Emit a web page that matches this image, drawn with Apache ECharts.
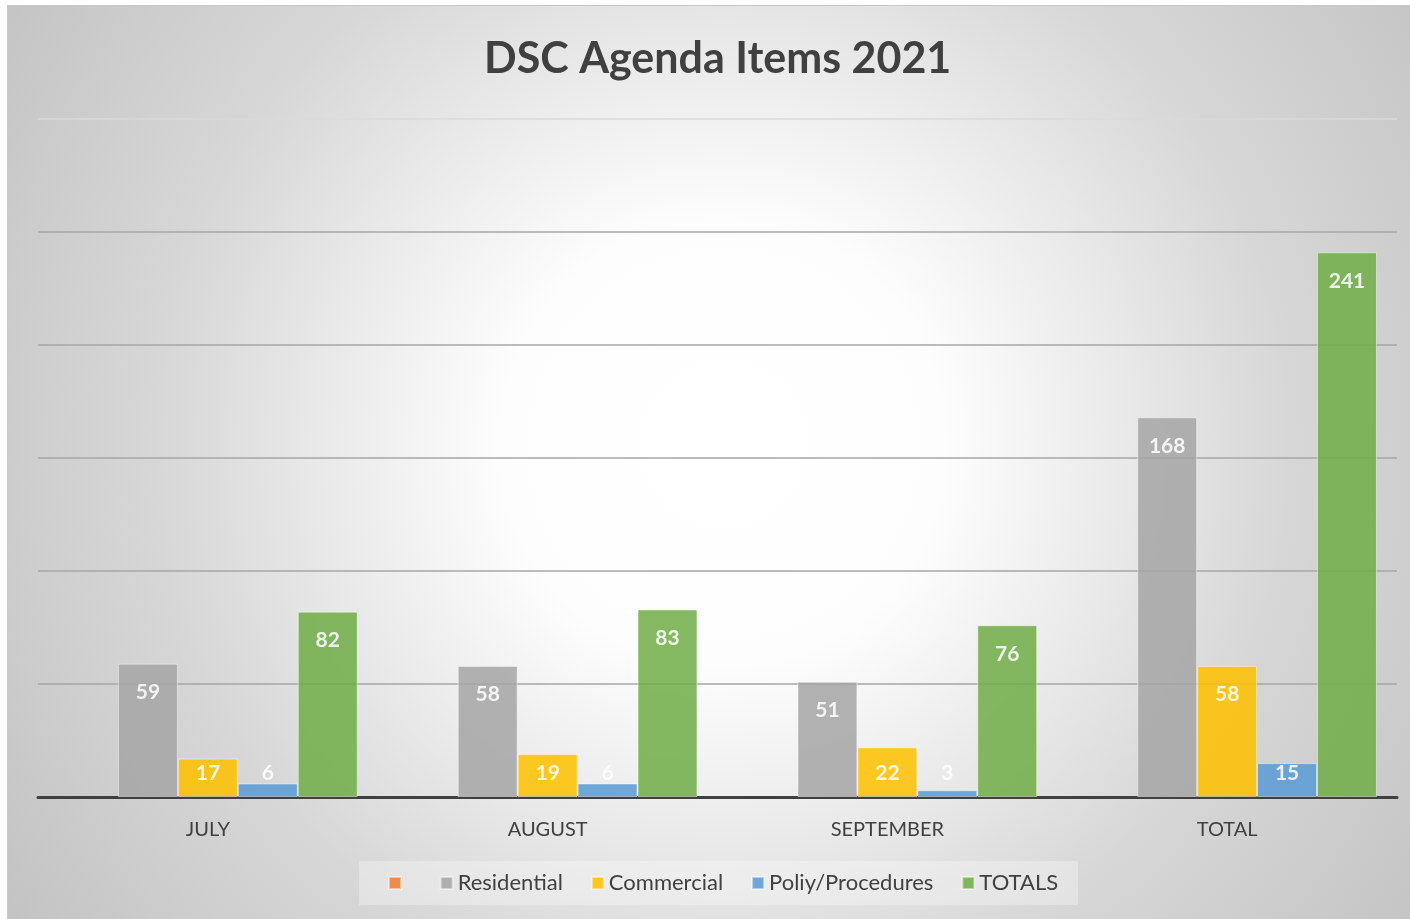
<!DOCTYPE html>
<html>
<head>
<meta charset="utf-8">
<script src="https://cdn.jsdelivr.net/npm/echarts@6/dist/echarts.min.js"></script>
<style>
  html, body { margin: 0; padding: 0; background: #ffffff; }
  #frame {
    position: absolute; left: 7px; top: 5px; width: 1403px; height: 914px;
    border-top: 1px solid #c8c8c8; border-left: 1px solid #c8c8c8;
    box-sizing: border-box;
    background: radial-gradient(circle at 51% 48%, #ffffff 0%, #fdfdfd 26%, #eaeaea 46%, #d7d7d7 66%, #c3c3c3 100%);
  }
  #chart { position: absolute; left: 0; top: 0; width: 1402px; height: 913px; }
</style>
</head>
<body>
<div id="frame"><div id="chart"></div></div>
<script>
// data
const months = ['JULY', 'AUGUST', 'SEPTEMBER', 'TOTAL']
const seriesNames = [' ', 'Residential', 'Commercial', 'Poliy/Procedures', 'TOTALS']
const blank = [null, null, null, null]
const residential = [59, 58, 51, 168]
const commercial = [17, 19, 22, 58]
const policy = [6, 6, 3, 15]
const totals = [82, 83, 76, 241]
const colors = ['#ED7D31', '#A5A5A5', '#FFC000', '#5B9BD5', '#70AD47']

const chart = echarts.init(document.getElementById('chart'))

// short bars get their label pushed up from the base, like Excel does
function items(values) {
  return values.map(v => {
    if (v == null) return null
    const small = v < 23
    return {
      value: v,
      label: {
        position: small ? 'insideBottom' : 'insideTop',
        distance: small ? 13 : 18
      }
    }
  })
}

const allValues = [blank, residential, commercial, policy, totals]

const series = allValues.map((vals, i) => ({
  name: seriesNames[i],
  type: 'bar',
  barGap: '0%',
  barCategoryGap: '11.8%',
  data: items(vals),
  itemStyle: {
    color: colors[i],
    opacity: 0.86,
    borderColor: 'rgba(255,255,255,0.55)',
    borderWidth: 1
  },
  label: {
    show: true,
    color: '#ffffff',
    fontFamily: 'Lato',
    fontWeight: 'bold',
    fontSize: 21
  }
}))

chart.setOption({
  animation: false,
  textStyle: { fontFamily: 'Lato' },
  title: {
    text: 'DSC Agenda Items 2021',
    left: 471,
    top: 27,
    textStyle: { fontFamily: 'Lato', fontSize: 43, fontWeight: 'bold', color: '#404040' }
  },
  legend: {
    data: seriesNames,
    bottom: 14,
    left: 351,
    icon: 'rect',
    itemWidth: 12,
    itemHeight: 12,
    itemGap: 28,
    padding: [11, 20, 11, 29],
    backgroundColor: 'rgba(255,255,255,0.3)',
    textStyle: { fontFamily: 'Lato', fontSize: 22, color: '#404040' }
  },
  grid: { left: 30, right: 13, top: 113, bottom: 122 },
  xAxis: {
    type: 'category',
    data: months,
    axisLine: { lineStyle: { color: '#404040', width: 3 } },
    axisTick: { show: false },
    axisLabel: { color: '#404040', fontSize: 20, fontFamily: 'Lato', margin: 23 }
  },
  yAxis: {
    type: 'value',
    min: 0,
    max: 300,
    interval: 50,
    axisLabel: { show: false },
    axisLine: { show: false },
    axisTick: { show: false },
    splitLine: {
      lineStyle: {
        color: ['#a6a6a6', '#a6a6a6', '#a6a6a6', '#a6a6a6', '#a6a6a6', '#a6a6a6', '#dadada'],
        width: 1.5
      }
    }
  },
  series: series
})
</script>
</body>
</html>
